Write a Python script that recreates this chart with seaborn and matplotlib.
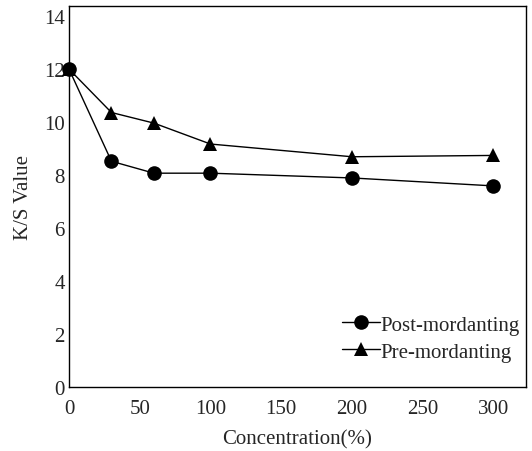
import matplotlib
matplotlib.use("Agg")
import matplotlib.pyplot as plt
import seaborn as sns
import pandas as pd

## data
concentration = [0, 30, 60, 100, 200, 300]
post_mordanting = [12.0, 8.52, 8.07, 8.07, 7.89, 7.59]
pre_mordanting = [12.0, 10.36, 9.96, 9.17, 8.69, 8.74]
series_names = ["Post-mordanting", "Pre-mordanting"]

df = pd.DataFrame({
    "Concentration": concentration * 2,
    "KS": post_mordanting + pre_mordanting,
    "Method": [series_names[0]] * len(concentration) + [series_names[1]] * len(concentration),
})

sns.set_style("white")
plt.rcParams['font.family'] = ['Liberation Serif', 'DejaVu Serif']

fig = plt.figure(figsize=(5.32, 4.52), dpi=100)
ax = fig.add_axes([69 / 532, 64 / 452, 457 / 532, 381 / 452])

sns.lineplot(data=df, x="Concentration", y="KS", hue="Method", style="Method",
             markers={"Post-mordanting": "o", "Pre-mordanting": "^"}, dashes=False,
             palette=["black", "black"], markersize=10.5, linewidth=1.0,
             markeredgewidth=0, ax=ax)
for line in ax.lines:
    line.set_clip_on(False)

ax.set_xlim(0, 323)
ax.set_ylim(0, 14.38)
ax.set_xticks([0, 50, 100, 150, 200, 250, 300])
ax.set_yticks([0, 2, 4, 6, 8, 10, 12, 14])
ax.tick_params(length=0, labelsize=15)
ax.tick_params(axis="x", pad=8.5)
ax.tick_params(axis="y", pad=3)
for s in ax.spines.values():
    s.set_color("black")
    s.set_linewidth(1.0)

ax.set_xlabel("Concentration(%)", fontsize=15, labelpad=8)
ax.set_ylabel("K/S Value", fontsize=15, labelpad=8)

leg = ax.legend(loc="lower right", frameon=False, fontsize=15, handlelength=1.8,
                handletextpad=0.05, borderaxespad=0.0, labelspacing=0.35,
                bbox_to_anchor=(1.005, 0.045))

plt.savefig("out.png", dpi=100)
